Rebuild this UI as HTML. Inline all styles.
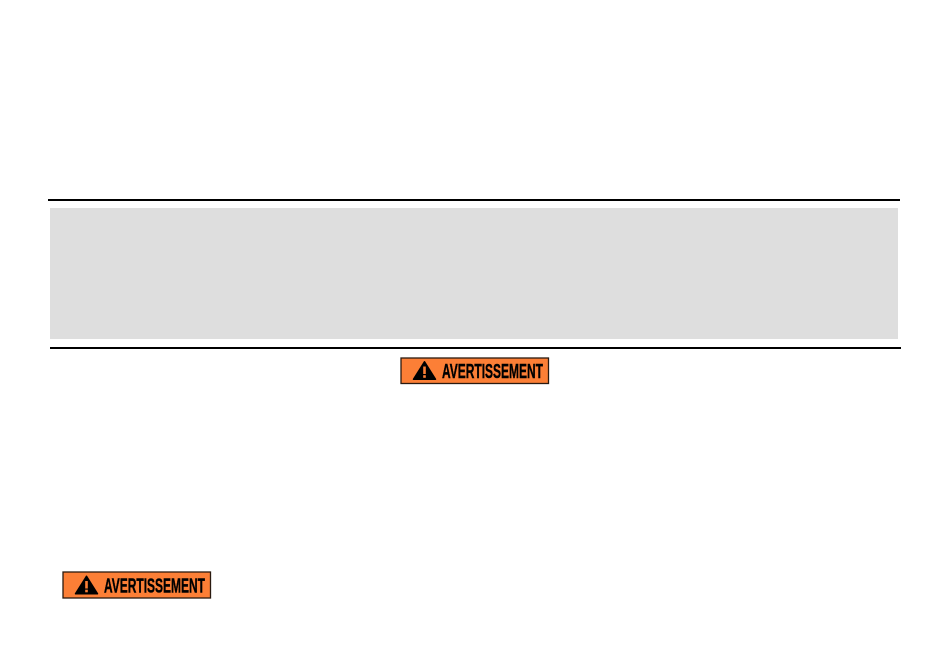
<!DOCTYPE html>
<html>
<head>
<meta charset="utf-8">
<style>
html,body{margin:0;padding:0;background:#fff;}
body{width:950px;height:654px;position:relative;overflow:hidden;font-family:"Liberation Sans",sans-serif;}
.a{position:absolute;}
.badge{position:absolute;left:0;top:0;}
.badge text{font-family:"Liberation Sans",sans-serif;font-weight:bold;font-size:20px;fill:#000;stroke:#000;stroke-width:.4px;}
</style>
</head>
<body>
<div class="a" style="left:48px;top:199px;width:852px;height:2px;background:#000"></div>
<div class="a" style="left:50px;top:208px;width:848px;height:131px;background:#dedede"></div>
<div class="a" style="left:50px;top:347px;width:851px;height:2px;background:#000"></div>

<svg class="badge" width="950" height="654" viewBox="0 0 950 654">
<g transform="translate(401,358)">
<rect x="0" y="0" width="147.5" height="25.5" fill="#fc7f36" stroke="#2a1a10" stroke-width="1.3"/>
<polygon points="23.5,3.8 34.5,21.3 12.5,21.3" fill="#000" stroke="#000" stroke-width="1.5" stroke-linejoin="round"/>
<rect x="22.2" y="8.5" width="2.6" height="7.5" fill="#fc7f36"/>
<rect x="22.2" y="17.2" width="2.6" height="2.6" fill="#fc7f36"/>
<text x="41" y="20" textLength="101" lengthAdjust="spacingAndGlyphs">AVERTISSEMENT</text>
</g>
<g transform="translate(63,572)">
<rect x="0" y="0" width="147.5" height="26" fill="#fc7f36" stroke="#2a1a10" stroke-width="1.3"/>
<polygon points="23.5,4.3 34.5,21.8 12.5,21.8" fill="#000" stroke="#000" stroke-width="1.5" stroke-linejoin="round"/>
<rect x="22.2" y="9" width="2.6" height="7.5" fill="#fc7f36"/>
<rect x="22.2" y="17.7" width="2.6" height="2.6" fill="#fc7f36"/>
<text x="41" y="20.5" textLength="101" lengthAdjust="spacingAndGlyphs">AVERTISSEMENT</text>
</g>
</svg>
</body>
</html>
